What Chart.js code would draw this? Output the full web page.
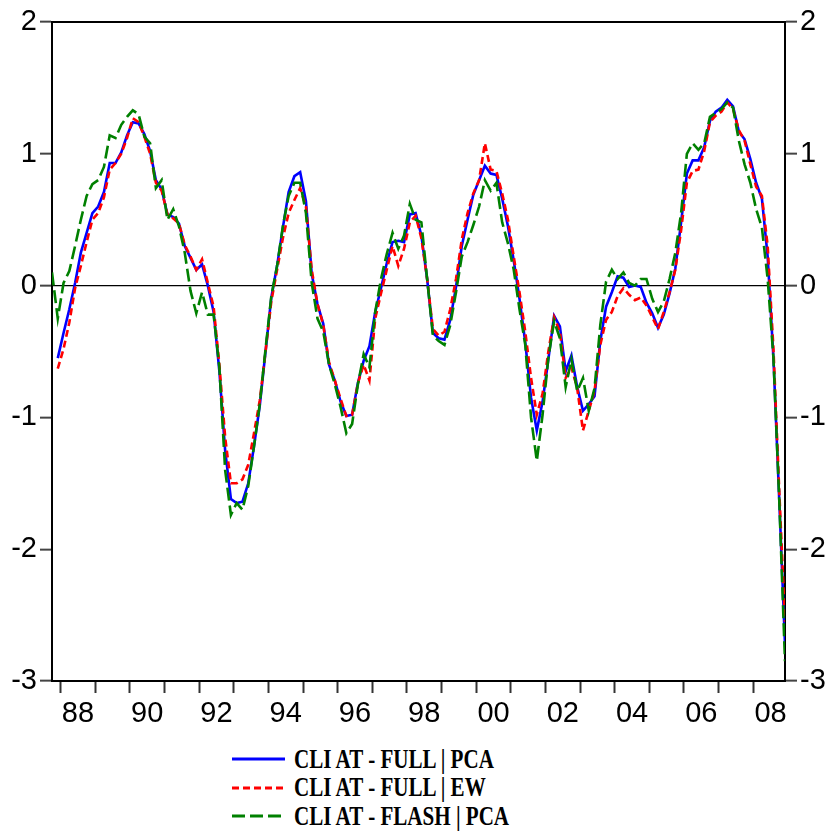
<!DOCTYPE html>
<html>
<head>
<meta charset="utf-8">
<script src="https://cdn.jsdelivr.net/npm/chart.js@4.4.1/dist/chart.umd.min.js"></script>
<style>
  html, body { margin: 0; padding: 0; background: #fff; }
  #wrap { position: relative; width: 829px; height: 832px; }
  #chart { position: absolute; left: 0; top: 0; }
  #legend { position: absolute; left: 232px; top: 745px; }
  .row { height: 28.5px; display: flex; align-items: center; }
  .row svg { flex: none; }
  .row span {
    margin-left: 9px; font: bold 27px "Liberation Serif", "Times New Roman", serif;
    color: #000; white-space: nowrap; display: inline-block;
    transform: scaleX(0.78); transform-origin: left center;
  }
</style>
</head>
<body>
<div id="wrap">
  <canvas id="chart" width="829" height="740"></canvas>
  <div id="legend"></div>
</div>
<script>
const START_YEAR = 1987.75;
const STEP = 1 / 6;

const FULL_PCA = [null,
  -0.55, -0.36, -0.18, 0.02, 0.25, 0.40, 0.55, 0.60, 0.71, 0.93,
  0.93, 1.01, 1.14, 1.24, 1.23, 1.15, 1.02, 0.80, 0.73, 0.54,
  0.52, 0.47, 0.30, 0.21, 0.12, 0.16, 0.00, -0.20, -0.65, -1.25,
  -1.62, -1.65, -1.64, -1.50, -1.22, -0.91, -0.50, -0.09, 0.15, 0.44,
  0.71, 0.83, 0.86, 0.64, 0.09, -0.14, -0.29, -0.60, -0.72, -0.88,
  -0.99, -0.98, -0.74, -0.57, -0.46, -0.20, -0.02, 0.17, 0.33, 0.34,
  0.33, 0.54, 0.55, 0.38, 0.05, -0.36, -0.40, -0.41, -0.26, -0.01,
  0.30, 0.50, 0.69, 0.80, 0.91, 0.85, 0.84, 0.66, 0.45, 0.19,
  -0.10, -0.43, -0.85, -1.10, -0.88, -0.56, -0.23, -0.31, -0.65, -0.53,
  -0.77, -0.95, -0.90, -0.84, -0.42, -0.16, -0.05, 0.07, 0.06, -0.01,
  0.00, -0.01, -0.13, -0.21, -0.32, -0.22, -0.06, 0.13, 0.48, 0.85,
  0.95, 0.95, 1.05, 1.25, 1.32, 1.35, 1.41, 1.36, 1.17, 1.11,
  0.96, 0.78, 0.66, 0.22, -0.55, -1.62, -2.72];

const FULL_EW = [null,
  -0.63, -0.48, -0.28, -0.02, 0.15, 0.33, 0.50, 0.55, 0.67, 0.88,
  0.93, 1.00, 1.12, 1.27, 1.24, 1.13, 1.00, 0.78, 0.72, 0.54,
  0.51, 0.47, 0.31, 0.22, 0.12, 0.20, 0.02, -0.16, -0.60, -1.15,
  -1.50, -1.50, -1.47, -1.36, -1.12, -0.87, -0.50, -0.12, 0.12, 0.36,
  0.55, 0.65, 0.74, 0.60, 0.12, -0.14, -0.30, -0.58, -0.72, -0.86,
  -0.99, -0.98, -0.74, -0.60, -0.72, -0.25, -0.06, 0.12, 0.30, 0.15,
  0.28, 0.48, 0.53, 0.36, 0.05, -0.33, -0.38, -0.35, -0.18, 0.05,
  0.35, 0.55, 0.70, 0.80, 1.08, 0.88, 0.87, 0.70, 0.50, 0.22,
  -0.05, -0.35, -0.70, -0.98, -0.82, -0.50, -0.24, -0.35, -0.70, -0.62,
  -0.78, -1.10, -0.95, -0.80, -0.45, -0.26, -0.20, -0.08, -0.02, -0.07,
  -0.11, -0.09, -0.15, -0.24, -0.33, -0.20, -0.05, 0.12, 0.42, 0.78,
  0.87, 0.88, 1.02, 1.24, 1.29, 1.32, 1.39, 1.34, 1.18, 1.10,
  0.92, 0.75, 0.68, 0.30, -0.48, -1.55, -2.55];

const FLASH_PCA = [
  0.10, -0.25, 0.02, 0.11, 0.30, 0.50, 0.68, 0.77, 0.80, 0.90,
  1.14, 1.12, 1.22, 1.28, 1.33, 1.30, 1.13, 1.08, 0.74, 0.80,
  0.50, 0.58, 0.45, 0.25, -0.04, -0.21, -0.05, -0.22, -0.22, -0.62,
  -1.40, -1.74, -1.65, -1.70, -1.52, -1.22, -0.90, -0.48, -0.08, 0.15,
  0.45, 0.68, 0.78, 0.78, 0.55, 0.02, -0.25, -0.35, -0.60, -0.75,
  -0.92, -1.12, -1.05, -0.75, -0.52, -0.62, -0.20, 0.05, 0.24, 0.40,
  0.28, 0.38, 0.62, 0.50, 0.48, 0.05, -0.38, -0.42, -0.45, -0.30,
  -0.05, 0.22, 0.33, 0.46, 0.60, 0.80, 0.72, 0.78, 0.48, 0.32,
  0.12, -0.18, -0.45, -1.00, -1.33, -0.98, -0.55, -0.27, -0.40, -0.77,
  -0.56, -0.80, -0.70, -0.95, -0.78, -0.30, 0.03, 0.12, 0.05, 0.10,
  0.02, 0.00, 0.05, 0.05, -0.10, -0.20, -0.12, 0.05, 0.25, 0.55,
  1.00, 1.08, 1.03, 1.08, 1.28, 1.31, 1.34, 1.39, 1.35, 1.10,
  0.92, 0.78, 0.58, 0.44, 0.05, -0.55, -1.62, -2.85];

const TICK_YEARS = [1988, 1989, 1990, 1991, 1992, 1993, 1994, 1995, 1996, 1997, 1998,
  1999, 2000, 2001, 2002, 2003, 2004, 2005, 2006, 2007, 2008];
const Y_TICKS = [2, 1, 0, -1, -2, -3];

const SERIES = [
  { label: 'CLI AT - FULL | PCA', values: FULL_PCA, color: '#0000ff', dash: [], order: 2 },
  { label: 'CLI AT - FULL | EW', values: FULL_EW, color: '#ff0000', dash: [7, 4], order: 1 },
  { label: 'CLI AT - FLASH | PCA', values: FLASH_PCA, color: '#008000', dash: [13, 5], order: 0 },
];

const tickFont = { family: '"Liberation Sans", Arial, sans-serif', size: 29 };

const topFrame = {
  id: 'topFrame',
  afterDraw(chart) {
    const { ctx, chartArea } = chart;
    ctx.save();
    ctx.strokeStyle = '#000';
    ctx.lineWidth = 2;
    ctx.beginPath();
    ctx.moveTo(chartArea.left, chartArea.top);
    ctx.lineTo(chartArea.right, chartArea.top);
    ctx.stroke();
    ctx.restore();
  },
};

function yAxis(position) {
  return {
    type: 'linear',
    position,
    min: -3,
    max: 2,
    afterBuildTicks: (s) => { s.ticks = Y_TICKS.map((v) => ({ value: v })); },
    afterFit: (s) => { s.width = position === 'left' ? 52 : 44; },
    ticks: { font: tickFont, color: '#000', padding: 3 },
    grid: {
      drawOnChartArea: position === 'left',
      color: (c) => (c.tick && c.tick.value === 0 ? '#000' : 'rgba(0,0,0,0)'),
      lineWidth: 1.3,
      tickLength: 12,
      tickColor: '#444',
      tickWidth: 2,
    },
    border: { display: true, color: '#000', width: 2 },
  };
}

new Chart(document.getElementById('chart'), {
  type: 'line',
  data: {
    datasets: SERIES.map((s) => ({
      label: s.label,
      data: s.values.map((v, i) => ({ x: START_YEAR + i * STEP, y: v })),
      borderColor: s.color,
      borderDash: s.dash,
      borderWidth: 2.6,
      pointRadius: 0,
      tension: 0,
      order: s.order,
    })),
  },
  options: {
    responsive: false,
    animation: false,
    layout: { padding: { top: 22, left: 0, right: 0, bottom: 0 } },
    plugins: { legend: { display: false }, tooltip: { enabled: false } },
    scales: {
      x: {
        type: 'linear',
        min: START_YEAR,
        max: 2008.917,
        afterBuildTicks: (s) => { s.ticks = TICK_YEARS.map((v) => ({ value: v })); },
        afterFit: (s) => { s.height = 59; },
        ticks: {
          font: tickFont,
          color: '#000',
          padding: 4,
          autoSkip: false,
          maxRotation: 0,
          labelOffset: 17.3,
          callback: (v) => (v % 2 === 0 ? String(v).slice(2) : ''),
        },
        grid: { drawOnChartArea: false, tickLength: 12, tickColor: '#333', tickWidth: 2 },
        border: { display: true, color: '#000', width: 2 },
      },
      y: yAxis('left'),
      y2: yAxis('right'),
    },
  },
  plugins: [topFrame],
});

document.getElementById('legend').innerHTML = SERIES.map((s) =>
  `<div class="row"><svg width="53" height="6"><line x1="0" y1="3" x2="53" y2="3" stroke="${s.color}" stroke-width="3" stroke-dasharray="${s.dash.length ? s.dash.join(',') : 'none'}"/></svg><span>${s.label}</span></div>`
).join('');
</script>
</body>
</html>
